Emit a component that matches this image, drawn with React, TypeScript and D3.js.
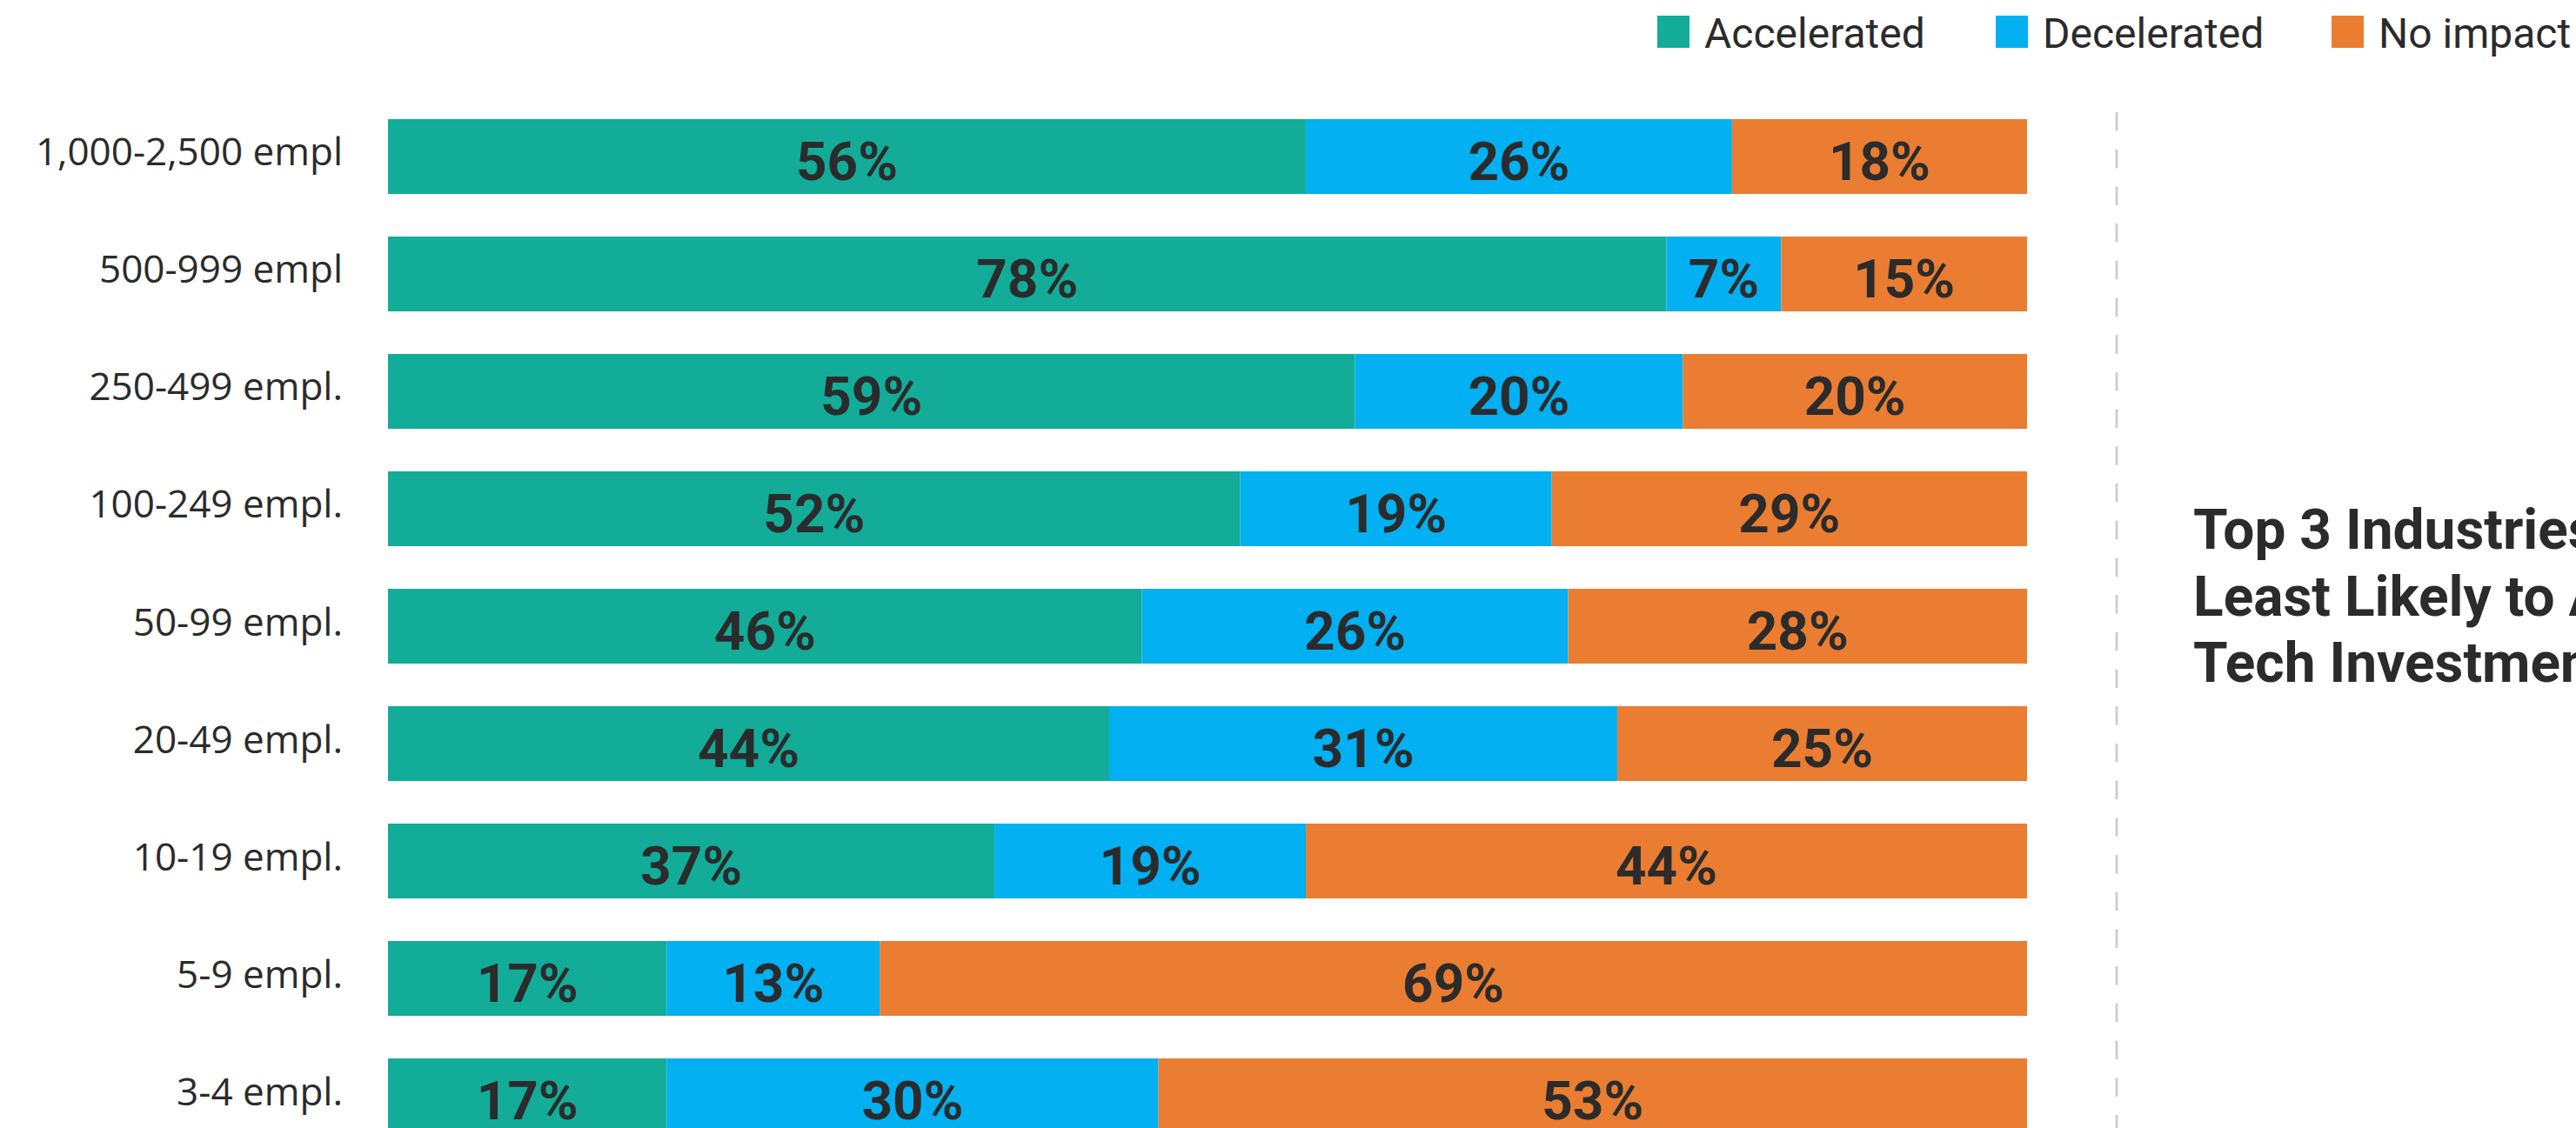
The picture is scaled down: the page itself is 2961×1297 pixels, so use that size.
import React from "react";
import * as d3 from "d3";

const categories = [
  "1,000-2,500 empl",
  "500-999 empl",
  "250-499 empl.",
  "100-249 empl.",
  "50-99 empl.",
  "20-49 empl.",
  "10-19 empl.",
  "5-9 empl.",
  "3-4 empl.",
];
const accelerated = [56, 78, 59, 52, 46, 44, 37, 17, 17];
const decelerated = [26, 7, 20, 19, 26, 31, 19, 13, 30];
const noImpact = [18, 15, 20, 29, 28, 25, 44, 69, 53];

const seriesKeys = ["Accelerated", "Decelerated", "No impact"];
const seriesColors = ["#12AC99", "#03B0F1", "#EA7D32"];
const titleLines = ["Top 3 Industries", "Least Likely to Accelerate", "Tech Investment"];

const W = 2961;
const H = 1297;
const TEXT = "#2b2b2b";

export default function App() {
  const rows = categories.map((c, i) => ({
    category: c,
    Accelerated: accelerated[i],
    Decelerated: decelerated[i],
    "No impact": noImpact[i],
  }));
  const stacked = d3.stack<any>().keys(seriesKeys)(rows);

  const x = d3.scaleLinear().domain([0, 100]).range([446, 2330]);
  const y = d3
    .scaleBand()
    .domain(categories)
    .range([137, 1303])
    .paddingInner(0.363)
    .paddingOuter(0);
  const bw = y.bandwidth();

  // legend layout
  const legendX = [1905, 2294, 2680];

  return (
    <svg
      width={W}
      height={H}
      style={{ position: "fixed", left: 0, top: 0, background: "#fff" }}
    >
      <rect width={W} height={H} fill="#fff" />
      {/* legend */}
      {seriesKeys.map((k, i) => (
        <g key={k}>
          <rect x={legendX[i]} y={18} width={37} height={37} fill={seriesColors[i]} />
          <text
            x={legendX[i] + 54}
            y={55}
            fontFamily="Roboto"
            fontSize={48}
            fill={TEXT}
          >
            {k}
          </text>
        </g>
      ))}
      {/* category labels */}
      {categories.map((c) => (
        <text
          key={c}
          x={394}
          y={(y(c) as number) + bw / 2 + 10.5}
          textAnchor="end"
          fontFamily="'Open Sans'"
          fontSize={44}
          fill={TEXT}
        >
          {c}
        </text>
      ))}
      {/* bars */}
      {stacked.map((s, si) => (
        <g key={s.key}>
          {s.map((d, i) => {
            const x0 = x(d[0]);
            const x1 = si === stacked.length - 1 ? x(100) : x(d[1]);
            const yy = y(categories[i]) as number;
            return (
              <rect
                key={i}
                x={x0}
                y={yy}
                width={x1 - x0}
                height={bw}
                fill={seriesColors[si]}
              />
            );
          })}
        </g>
      ))}
      {/* value labels */}
      {stacked.map((s, si) => (
        <g key={"l" + s.key}>
          {s.map((d, i) => {
            const x0 = x(d[0]);
            const x1 = si === stacked.length - 1 ? x(100) : x(d[1]);
            const yy = y(categories[i]) as number;
            const v = d[1] - d[0];
            return (
              <text
                key={i}
                x={(x0 + x1) / 2}
                y={yy + bw / 2 + 27}
                textAnchor="middle"
                fontFamily="Roboto"
                fontWeight={700}
                fontSize={62}
                fill={TEXT}
              >
                {`${v}%`}
              </text>
            );
          })}
        </g>
      ))}
      {/* dashed divider */}
      <line
        x1={2433}
        x2={2433}
        y1={129}
        y2={H}
        stroke="#cfcfcf"
        strokeWidth={3}
        strokeDasharray="21.5 21.2"
      />
      {/* side title */}
      {titleLines.map((t, i) => (
        <text
          key={t}
          x={2521}
          y={631 + i * 76.5}
          fontFamily="Roboto"
          fontWeight={700}
          fontSize={64}
          fill={TEXT}
        >
          {t}
        </text>
      ))}
    </svg>
  );
}
